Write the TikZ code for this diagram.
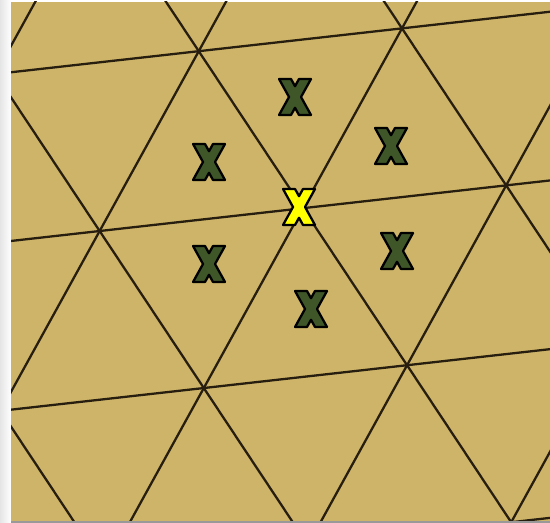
\documentclass[tikz,border=0pt]{standalone}
\usetikzlibrary{calc}

\definecolor{sandtan}{RGB}{205,180,104}
\definecolor{gridbrown}{RGB}{40,30,16}
\definecolor{mossgreen}{RGB}{62,86,40}
\definecolor{markyellow}{RGB}{255,255,0}

\tikzset{
  xmark/.pic={
    \path[draw=black,line width=1.3pt,line join=round,pic actions]
      (-16,-18) -- (-4,-18) -- (0,-10.8) -- (4,-18) -- (16,-18) -- (6,0)
      -- (16,18) -- (4,18) -- (0,10.8) -- (-4,18) -- (-16,18) -- (-6,0) -- cycle;
  }
}

\begin{document}
\begin{tikzpicture}[
  x=0.02cm,y=-0.02cm,
  gridline/.style={draw=gridbrown,line width=1.3pt},
  greenmark/.style={fill=mossgreen},
  yellowmark/.style={fill=markyellow}
]

% ---------------- canvas and margins ----------------
\useasboundingbox (0,0) rectangle (550,523);
\fill[white] (0,0) rectangle (550,523);
\shade[left color=black!10,right color=white] (0,0) rectangle (11,523);
\fill[black!40] (11,520.5) rectangle (550,523);
\fill[sandtan] (11,2) rectangle (550,520.5);

% ---------------- lattice ----------------
\coordinate (O)  at (302.9,208.2);
\coordinate (ea) at (203.25,-22.82);
\coordinate (eb) at (99.1,-179.83);
\coordinate (ec) at (-104.15,-157.01);

\begin{scope}
  \clip (11,2) rectangle (550,520.5);
  \foreach \k in {-5,...,5} {
    \draw[gridline] ($(O)+\k*(eb)-6*(ea)$) -- ($(O)+\k*(eb)+6*(ea)$);
    \draw[gridline] ($(O)+\k*(ea)-6*(eb)$) -- ($(O)+\k*(ea)+6*(eb)$);
    \draw[gridline] ($(O)+\k*(ea)-6*(ec)$) -- ($(O)+\k*(ea)+6*(ec)$);
  }
\end{scope}

% ---------------- markers ----------------
\pic[greenmark] at (295,97)  {xmark};
\pic[greenmark] at (391,146) {xmark};
\pic[greenmark] at (209,162) {xmark};
\pic[greenmark] at (209,264) {xmark};
\pic[greenmark] at (397,251) {xmark};
\pic[greenmark] at (311,309) {xmark};
\pic[yellowmark] at (299,207) {xmark};

\end{tikzpicture}
\end{document}
